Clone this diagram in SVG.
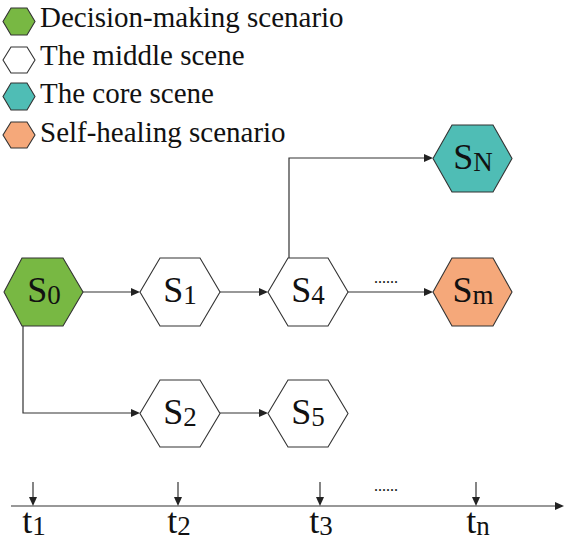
<svg xmlns="http://www.w3.org/2000/svg" width="567" height="542" viewBox="0 0 567 542" font-family="Liberation Serif">
<defs>
<path id="ah" d="M0,0 L-9,-4 L-9,4 Z" fill="#222"/>
<style>
.hex{stroke:#333;stroke-width:1.1}
.w{fill:#fff}.g{fill:#78b843}.c{fill:#4fbdb5}.o{fill:#f5a87a}
text{fill:#111}
.s{font-size:36px}
.sub{font-size:27px}
.leg{font-size:29px}
.ln{fill:none;stroke:#333;stroke-width:1.2}
</style>
</defs>
<g id="legend">
<polygon class="hex g" points="3,21.5 11,8 27,8 35,21.5 27,35 11,35"/>
<polygon class="hex w" points="3,60 11,47 27,47 35,60 27,73 11,73"/>
<polygon class="hex c" points="3,96.5 11,83 27,83 35,96.5 27,110 11,110"/>
<polygon class="hex o" points="3,135 11,122 27,122 35,135 27,148 11,148"/>
<text class="leg" font-family="Liberation Serif" x="40" y="27">Decision-making scenario</text>
<text class="leg" font-family="Liberation Serif" x="40" y="65">The middle scene</text>
<text class="leg" font-family="Liberation Serif" x="40" y="103">The core scene</text>
<text class="leg" font-family="Liberation Serif" x="40" y="142">Self-healing scenario</text>
</g>
<g id="connectors">
<line class="ln" x1="83" y1="292" x2="138" y2="292"/>
<use href="#ah" transform="translate(140,292)"/>
<line class="ln" x1="220" y1="292" x2="266" y2="292"/>
<use href="#ah" transform="translate(268,292)"/>
<line class="ln" x1="348" y1="292" x2="431" y2="292"/>
<use href="#ah" transform="translate(433,292)"/>
<polyline class="ln" points="289,258 289,158 431,158"/>
<use href="#ah" transform="translate(433,158)"/>
<polyline class="ln" points="23,326 23,413 138,413"/>
<use href="#ah" transform="translate(140,413)"/>
<line class="ln" x1="220" y1="413" x2="266" y2="413"/>
<use href="#ah" transform="translate(268,413)"/>
<text font-family="Liberation Serif" x="386" y="283" text-anchor="middle" font-size="16">......</text>
</g>
<g id="S0">
<polygon class="hex g" points="4,292 22,258 63,258 83,292 63,326 22,326"/>
<text class="s" font-family="Liberation Serif" x="44" y="302" text-anchor="middle">S<tspan class="sub" dy="2">0</tspan></text>
</g>
<g id="S1">
<polygon class="hex w" points="140,292 160,258 200,258 220,292 200,326 160,326"/>
<text class="s" font-family="Liberation Serif" x="180" y="302" text-anchor="middle">S<tspan class="sub" dy="2">1</tspan></text>
</g>
<g id="S4">
<polygon class="hex w" points="268,292 288,258 328,258 348,292 328,326 288,326"/>
<text class="s" font-family="Liberation Serif" x="308" y="302" text-anchor="middle">S<tspan class="sub" dy="2">4</tspan></text>
</g>
<g id="SN">
<polygon class="hex c" points="433,158.5 452,125 493,125 512,158.5 493,192 452,192"/>
<text class="s" font-family="Liberation Serif" x="473" y="169" text-anchor="middle">S<tspan class="sub" dy="2">N</tspan></text>
</g>
<g id="Sm">
<polygon class="hex o" points="433,292 452,258 493,258 512,292 493,326 452,326"/>
<text class="s" font-family="Liberation Serif" x="473" y="302" text-anchor="middle">S<tspan class="sub" dy="2">m</tspan></text>
</g>
<g id="S2">
<polygon class="hex w" points="140,413.5 160,380 200,380 220,413.5 200,447 160,447"/>
<text class="s" font-family="Liberation Serif" x="180" y="424" text-anchor="middle">S<tspan class="sub" dy="2">2</tspan></text>
</g>
<g id="S5">
<polygon class="hex w" points="268,413.5 288,380 328,380 348,413.5 328,447 288,447"/>
<text class="s" font-family="Liberation Serif" x="308" y="424" text-anchor="middle">S<tspan class="sub" dy="2">5</tspan></text>
</g>
<g id="timeline">
<line class="ln" x1="11" y1="506" x2="562" y2="506"/>
<use href="#ah" transform="translate(564,506)"/>
<line class="ln" x1="33" y1="482" x2="33" y2="504"/>
<use href="#ah" transform="translate(33,506) rotate(90)"/>
<line class="ln" x1="178" y1="482" x2="178" y2="504"/>
<use href="#ah" transform="translate(178,506) rotate(90)"/>
<line class="ln" x1="320" y1="482" x2="320" y2="504"/>
<use href="#ah" transform="translate(320,506) rotate(90)"/>
<line class="ln" x1="476" y1="482" x2="476" y2="504"/>
<use href="#ah" transform="translate(476,506) rotate(90)"/>
<text font-family="Liberation Serif" x="386" y="491" text-anchor="middle" font-size="16">......</text>
<text class="s" font-family="Liberation Serif" x="34" y="533" text-anchor="middle">t<tspan class="sub" dy="2">1</tspan></text>
<text class="s" font-family="Liberation Serif" x="179" y="533" text-anchor="middle">t<tspan class="sub" dy="2">2</tspan></text>
<text class="s" font-family="Liberation Serif" x="321" y="533" text-anchor="middle">t<tspan class="sub" dy="2">3</tspan></text>
<text class="s" font-family="Liberation Serif" x="478" y="533" text-anchor="middle">t<tspan class="sub" dy="2">n</tspan></text>
</g>
</svg>
